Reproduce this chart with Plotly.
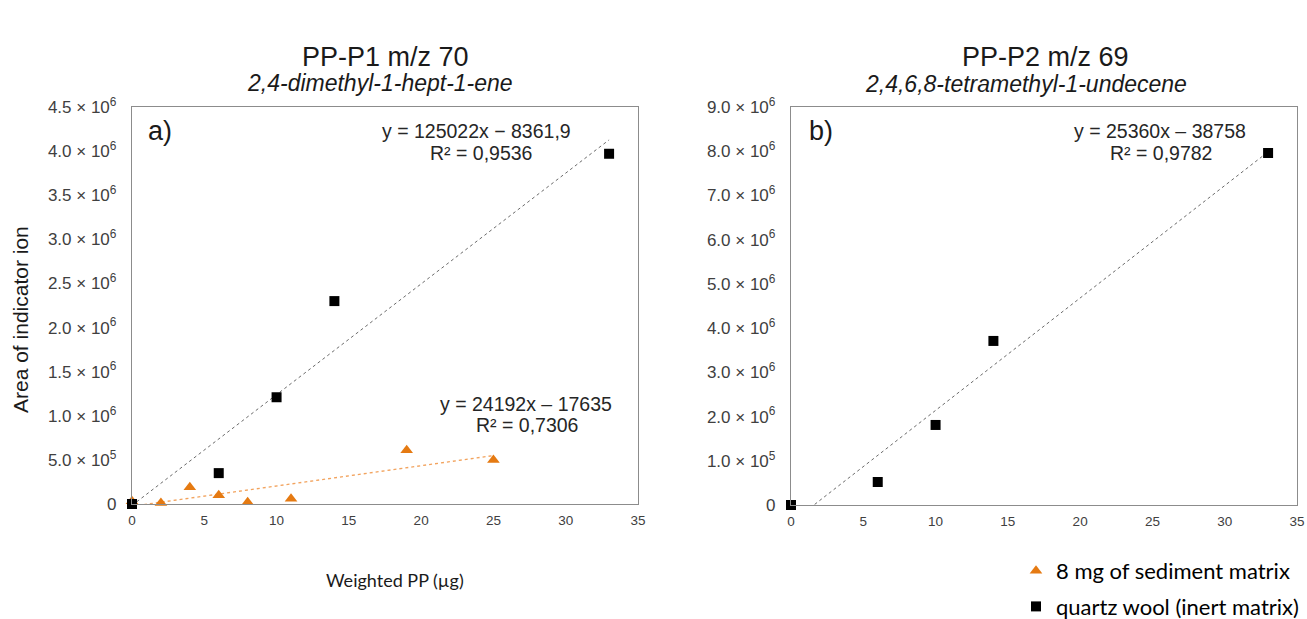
import numpy as np
import plotly.graph_objects as go

W, H = 1307, 619

# ---- data ----
sed_x = [0, 2, 4, 6, 8, 11, 19, 25]
sed_y = [30000, 10000, 190000, 100000, 20000, 60000, 610000, 500000]

qw1_x = [0, 6, 10, 14, 33]
qw1_y = [0, 350000, 1210000, 2300000, 3970000]

qw2_x = [0, 6, 10, 14, 33]
qw2_y = [0, 520000, 1810000, 3710000, 7960000]

x_ticks = [0, 5, 10, 15, 20, 25, 30, 35]

y1_tickvals = [0, 5e5, 1e6, 1.5e6, 2e6, 2.5e6, 3e6, 3.5e6, 4e6, 4.5e6]
y1_ticktext = ["0", "5.0 × 10<sup>5</sup>", "1.0 × 10<sup>6</sup>", "1.5 × 10<sup>6</sup>",
               "2.0 × 10<sup>6</sup>", "2.5 × 10<sup>6</sup>", "3.0 × 10<sup>6</sup>",
               "3.5 × 10<sup>6</sup>", "4.0 × 10<sup>6</sup>", "4.5 × 10<sup>6</sup>"]

y2_tickvals = [0, 1e6, 2e6, 3e6, 4e6, 5e6, 6e6, 7e6, 8e6, 9e6]
y2_ticktext = ["0", "1.0 × 10<sup>5</sup>", "2.0 × 10<sup>6</sup>", "3.0 × 10<sup>6</sup>",
               "4.0 × 10<sup>6</sup>", "5.0 × 10<sup>6</sup>", "6.0 × 10<sup>6</sup>",
               "7.0 × 10<sup>6</sup>", "8.0 × 10<sup>6</sup>", "9.0 × 10<sup>6</sup>"]

eq_sed = ["y = 24192x – 17635", "R² = 0,7306"]
eq_qw1 = ["y = 125022x − 8361,9", "R² = 0,9536"]
eq_qw2 = ["y = 25360x – 38758", "R² = 0,9782"]

ORANGE = "#E57A12"
ORANGE_LINE = "#F2A35E"
BLACK = "#000000"
GREY_LINE = "#6b6b6b"


def px(x):
    return x / W


def py(y):
    return 1 - y / H


def trend(xs, ys):
    k, b = np.polyfit(xs, ys, 1)
    lx = np.array([min(xs), max(xs)], dtype=float)
    return lx, k * lx + b


fig = go.Figure()

# left panel: sediment
lx, ly = trend(sed_x, sed_y)
fig.add_trace(go.Scatter(x=lx, y=ly, mode="lines", xaxis="x", yaxis="y",
                         line=dict(color=ORANGE_LINE, width=1.3, dash="dot"),
                         showlegend=False, hoverinfo="skip"))
fig.add_trace(go.Scatter(x=sed_x, y=sed_y, mode="markers", xaxis="x", yaxis="y",
                         name="8 mg of sediment matrix", legendgroup="a",
                         marker=dict(symbol="triangle-up", size=11, color=ORANGE),
                         cliponaxis=False))
# left panel: quartz wool
lx, ly = trend(qw1_x, qw1_y)
fig.add_trace(go.Scatter(x=lx, y=ly, mode="lines", xaxis="x", yaxis="y",
                         line=dict(color=GREY_LINE, width=1, dash="dot"),
                         showlegend=False, hoverinfo="skip"))
fig.add_trace(go.Scatter(x=qw1_x, y=qw1_y, mode="markers", xaxis="x", yaxis="y",
                         name="quartz wool (inert matrix)", legendgroup="b",
                         marker=dict(symbol="square", size=10, color=BLACK),
                         cliponaxis=False))
# right panel
lx, ly = trend(qw2_x, qw2_y)
fig.add_trace(go.Scatter(x=lx, y=ly, mode="lines", xaxis="x2", yaxis="y2",
                         line=dict(color=GREY_LINE, width=1, dash="dot"),
                         showlegend=False, hoverinfo="skip"))
fig.add_trace(go.Scatter(x=qw2_x, y=qw2_y, mode="markers", xaxis="x2", yaxis="y2",
                         showlegend=False,
                         marker=dict(symbol="square", size=10, color=BLACK),
                         cliponaxis=False))

AX_FONT = dict(family="Liberation Sans, Arial, sans-serif", size=13.5, color="#404040")
AY_FONT = dict(family="Liberation Sans, Arial, sans-serif", size=17, color="#404040")

xcommon = dict(range=[0, 35], tickvals=x_ticks, showgrid=False, zeroline=False,
               showline=True, linecolor="#8c8c8c", linewidth=1.3, mirror=True,
               ticks="", tickfont=AX_FONT, ticklabelstandoff=4, automargin=False)
ycommon = dict(showgrid=False, zeroline=False, showline=True, linecolor="#8c8c8c",
               linewidth=1.3, mirror=True, ticks="", tickfont=AY_FONT,
               ticklabelstandoff=11, automargin=False)

fig.update_layout(
    width=W, height=H,
    margin=dict(l=0, r=0, t=0, b=0, autoexpand=False),
    paper_bgcolor="white", plot_bgcolor="white",
    xaxis=dict(domain=[px(132), px(638)], anchor="y", **xcommon),
    yaxis=dict(domain=[py(504), py(107)], anchor="x", range=[0, 4.5e6],
               tickvals=y1_tickvals, ticktext=y1_ticktext, **ycommon),
    xaxis2=dict(domain=[px(791), px(1297)], anchor="y2", **xcommon),
    yaxis2=dict(domain=[py(505), py(107)], anchor="x2", range=[0, 9e6],
                tickvals=y2_tickvals, ticktext=y2_ticktext, **ycommon),
    showlegend=True,
    legend=dict(x=px(1016), y=py(550), xanchor="left", yanchor="top",
                font=dict(family="Lato, Carlito, sans-serif", size=22, color="#000000"),
                bgcolor="rgba(0,0,0,0)", tracegroupgap=4, itemwidth=30),
)

T1FONT = dict(family="Liberation Sans, Arial, sans-serif", size=27, color="#1a1a1a")
T2FONT = dict(family="Liberation Sans, Arial, sans-serif", size=23, color="#1a1a1a")
EFONT = dict(family="Liberation Sans, Arial, sans-serif", size=19.5, color="#262626")

ann = [
    dict(text="PP-P1 m/z 70", x=px(385), y=py(57), font=T1FONT),
    dict(text="<i>2,4-dimethyl-1-hept-1-ene</i>", x=px(380), y=py(83), font=T2FONT),
    dict(text="PP-P2 m/z 69", x=px(1045), y=py(57), font=T1FONT),
    dict(text="<i>2,4,6,8-tetramethyl-1-undecene</i>", x=px(1026), y=py(84), font=T2FONT),
    dict(text="a)", x=px(160), y=py(131), font=dict(family="Liberation Sans, Arial", size=27, color="#1a1a1a")),
    dict(text="b)", x=px(821), y=py(131), font=dict(family="Liberation Sans, Arial", size=27, color="#1a1a1a")),
    dict(text=eq_qw1[0], x=px(476), y=py(131), font=EFONT),
    dict(text=eq_qw1[1], x=px(481), y=py(153), font=EFONT),
    dict(text=eq_sed[0], x=px(526), y=py(404), font=EFONT),
    dict(text=eq_sed[1], x=px(527), y=py(425), font=EFONT),
    dict(text=eq_qw2[0], x=px(1160), y=py(131), font=EFONT),
    dict(text=eq_qw2[1], x=px(1161), y=py(153), font=EFONT),
    dict(text="Area of indicator ion", x=px(20), y=py(320), textangle=-90,
         font=dict(family="Liberation Sans, Arial, sans-serif", size=21, color="#1a1a1a")),
    dict(text="Weighted PP (µg)", x=px(395), y=py(580),
         font=dict(family="Lato, Carlito, sans-serif", size=18, color="#1a1a1a")),
]
for a in ann:
    fig.add_annotation(xref="paper", yref="paper", showarrow=False,
                       xanchor="center", yanchor="middle", align="center", **a)

# remove the default page margin so the figure fills the window exactly
fig.write_html(
    "out.html",
    config={"displayModeBar": False},
    post_script="document.body.style.margin='0';"
                "document.body.style.overflow='hidden';"
                "document.documentElement.style.overflow='hidden';",
)
